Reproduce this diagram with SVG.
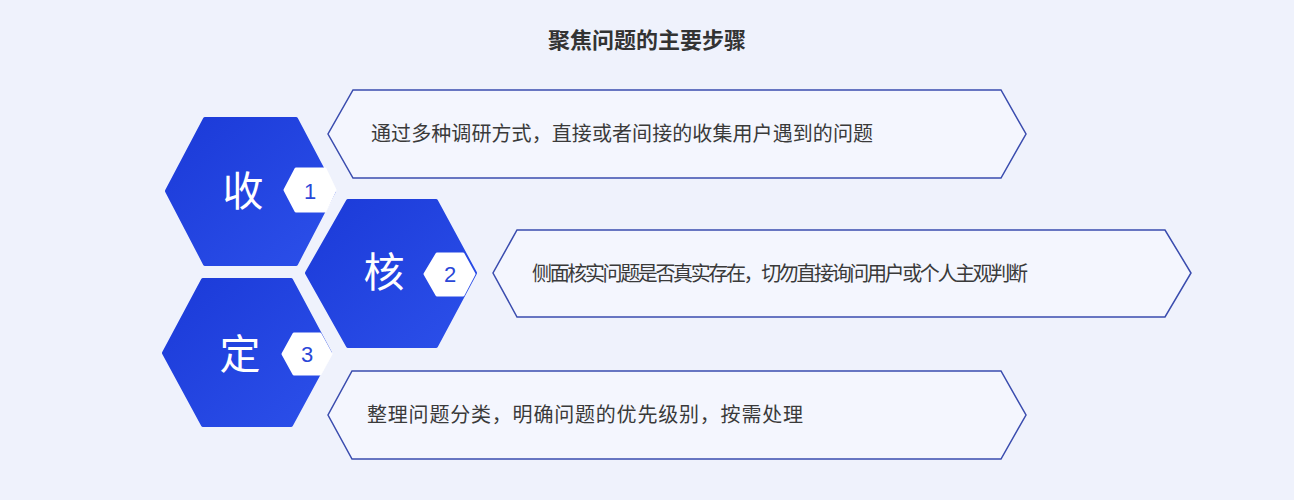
<svg xmlns="http://www.w3.org/2000/svg" width="1294" height="500" viewBox="0 0 1294 500">
  <defs>
    <linearGradient id="hexg" x1="0" y1="0" x2="1" y2="1">
      <stop offset="0" stop-color="#1b3ad8"/>
      <stop offset="1" stop-color="#2c50ea"/>
    </linearGradient>
    <style>
      .hex { fill: url(#hexg); stroke: url(#hexg); stroke-width: 4; stroke-linejoin: round; }
      .badge { fill: #ffffff; stroke: #ffffff; stroke-width: 3; stroke-linejoin: round; }
      .box { fill: #f4f6fe; stroke: #3a4cae; stroke-width: 1.5; stroke-linejoin: miter; }
      .big { font-family: "Noto Sans CJK SC", "Noto Sans", sans-serif; font-size: 41px; fill: #ffffff; text-anchor: middle; }
      .num { font-family: "Liberation Sans", Roboto, Arial, sans-serif; font-size: 22px; fill: #2a47d8; text-anchor: middle; }
      .desc { font-family: "Noto Sans CJK SC", "Noto Sans", sans-serif; font-size: 20px; fill: #3a3a3a; }
      .title { font-family: "Noto Sans CJK SC", "Noto Sans", sans-serif; font-size: 22px; font-weight: bold; fill: #333333; text-anchor: middle; }
    </style>
  </defs>
  <rect x="0" y="0" width="1294" height="500" fill="#eff2fc"/>

  <text id="title" class="title" x="647" y="48">聚焦问题的主要步骤</text>

  <g id="connectors"></g>

  <g id="step1-box">
    <polygon class="box" points="353,90 1001,90 1026,134 1001,178 353,178 328,134"/>
    <text class="desc" x="371" y="141" textLength="502" lengthAdjust="spacing">通过多种调研方式，直接或者间接的收集用户遇到的问题</text>
  </g>
  <g id="step2-box">
    <polygon class="box" points="517,230 1165,230 1191,273 1165,317 517,317 493,273"/>
    <text class="desc" x="532" y="281" textLength="496" lengthAdjust="spacing">侧面核实问题是否真实存在，切勿直接询问用户或个人主观判断</text>
  </g>
  <g id="step3-box">
    <polygon class="box" points="352,371 1001,371 1026,415 1001,459 352,459 328,415"/>
    <text class="desc" x="367" y="422" textLength="436" lengthAdjust="spacing">整理问题分类，明确问题的优先级别，按需处理</text>
  </g>

  <g id="step1-hex">
    <polygon class="hex" points="167,191 205,119 296,119 334,191 296,264 205,264"/>
    <text class="big" x="243" y="206">收</text>
    <polygon class="badge" points="285,190 296,169 325,169 335,190 325,211 296,211"/>
    <text class="num" x="310" y="199">1</text>
  </g>
  <g id="step2-hex">
    <polygon class="hex" points="307,273 348,201 436,201 475,273 436,346 348,346"/>
    <text class="big" x="384" y="287">核</text>
    <polygon class="badge" points="425,274 437,254 463,254 474,274 463,295 437,295"/>
    <text class="num" x="450" y="282">2</text>
  </g>
  <g id="step3-hex">
    <polygon class="hex" points="164,353 203,280 291,280 330,353 291,425 203,425"/>
    <text class="big" x="240" y="369">定</text>
    <polygon class="badge" points="283,354 294,334 320,334 331,354 320,374 294,374"/>
    <text class="num" x="307" y="362">3</text>
  </g>
</svg>
